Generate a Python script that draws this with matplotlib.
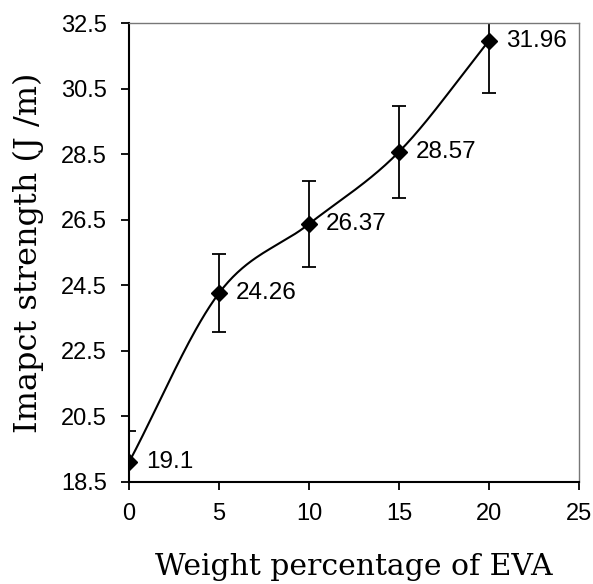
import numpy as np
import matplotlib.pyplot as plt

eva = [0, 5, 10, 15, 20]
strength = [19.1, 24.26, 26.37, 28.57, 31.96]
err = [0.95, 1.2, 1.3, 1.4, 1.6]
labels = ["19.1", "24.26", "26.37", "28.57", "31.96"]


def smooth(x, y, n=40):
    # catmull-rom style smoothing, similar to Excel's smoothed line
    x = np.asarray(x, float)
    y = np.asarray(y, float)
    px = np.concatenate([[2 * x[0] - x[1]], x, [2 * x[-1] - x[-2]]])
    py = np.concatenate([[2 * y[0] - y[1]], y, [2 * y[-1] - y[-2]]])
    xs, ys = [], []
    t = np.linspace(0, 1, n)
    for i in range(1, len(px) - 2):
        for p, out in ((px, xs), (py, ys)):
            p0, p1, p2, p3 = p[i - 1], p[i], p[i + 1], p[i + 2]
            out.extend(0.5 * (2 * p1 + (-p0 + p2) * t
                              + (2 * p0 - 5 * p1 + 4 * p2 - p3) * t ** 2
                              + (-p0 + 3 * p1 - 3 * p2 + p3) * t ** 3))
    return xs, ys


fig = plt.figure(figsize=(5.93, 5.84), dpi=100)
ax = fig.add_axes([0.2175, 0.1747, 0.7589, 0.7859])

sx, sy = smooth(eva, strength)
ax.plot(sx, sy, color="black", lw=1.5)
ax.errorbar(eva, strength, yerr=err, fmt="D", color="black", ms=8,
            ecolor="black", elinewidth=1.3, capsize=5, capthick=1.3)

for x, y, s in zip(eva, strength, labels):
    ax.annotate(s, (x, y), xytext=(12, 0), textcoords="offset points",
                fontsize=17.5, family="Liberation Sans", va="center", ha="left")

ax.set_xlim(0, 25)
ax.set_ylim(18.5, 32.5)
ax.set_xticks(range(0, 26, 5))
ax.set_yticks(np.arange(18.5, 32.6, 2))
ax.set_yticklabels([f"{v:.1f}" for v in np.arange(18.5, 32.6, 2)])
ax.tick_params(direction="out", length=6, width=1.3, labelsize=17)
ax.tick_params(axis="y", pad=10)
ax.tick_params(axis="x", pad=9)
for lab in ax.get_xticklabels() + ax.get_yticklabels():
    lab.set_family("Liberation Sans")

for side in ["left", "bottom"]:
    ax.spines[side].set_linewidth(1.5)
for side in ["top", "right"]:
    ax.spines[side].set_color("#777777")
    ax.spines[side].set_linewidth(1.0)

ax.set_xlabel("Weight percentage of EVA", family="DejaVu Serif",
              fontsize=21.5, labelpad=20)
ax.set_ylabel("Imapct strength (J /m)", family="DejaVu Serif",
              fontsize=23, labelpad=12)

fig.savefig("out.png", dpi=100)
